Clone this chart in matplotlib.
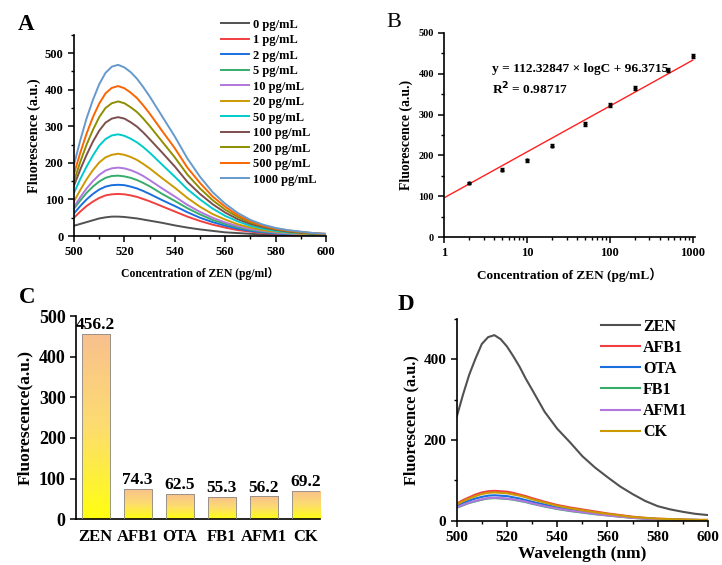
import numpy as np
import matplotlib
matplotlib.use("Agg")
import matplotlib.pyplot as plt
from matplotlib.ticker import MultipleLocator, LogLocator, NullFormatter
from matplotlib.colors import LinearSegmentedColormap

plt.rcParams['font.family'] = ['Liberation Serif', 'Noto Sans CJK SC']
plt.rcParams['font.weight'] = 'bold'
plt.rcParams['axes.labelweight'] = 'bold'

# ---- data ----
wl = [500, 502.5, 505, 507.5, 510, 512.5, 515, 517.5, 520, 522.5, 525, 527.5, 530,
      535, 540, 545, 550, 555, 560, 565, 570, 575, 580, 585, 590, 595, 600]

conc_labels = ["0 pg/mL", "1 pg/mL", "2 pg/mL", "5 pg/mL", "10 pg/mL", "20 pg/mL",
               "50 pg/mL", "100 pg/mL", "200 pg/mL", "500 pg/mL", "1000 pg/mL"]
spec_0 = [28, 33, 38, 43, 48, 51, 53, 53, 52, 50, 48, 45, 42,
          36, 29, 23, 18, 14, 10, 8, 6, 4, 3, 2, 2, 1, 1]
spec_1 = [50, 67, 82, 94, 104, 111, 114, 115, 114, 111, 107, 101, 95,
          81, 67, 53, 41, 31, 23, 16, 12, 8, 6, 4, 3, 2, 2]
spec_2 = [62, 82, 100, 115, 127, 135, 139, 140, 139, 135, 130, 123, 115,
          98, 82, 65, 50, 38, 28, 20, 14, 10, 7, 5, 4, 3, 2]
spec_5 = [75, 97, 118, 135, 149, 159, 164, 165, 163, 159, 153, 145, 136,
          115, 96, 76, 59, 44, 33, 24, 17, 12, 9, 7, 5, 4, 3]
spec_10 = [80, 106, 130, 150, 167, 179, 185, 187, 185, 180, 173, 164, 153,
           130, 108, 85, 66, 50, 37, 27, 19, 14, 10, 7, 5, 4, 3]
spec_20 = [95, 126, 155, 180, 201, 215, 222, 225, 222, 216, 208, 197, 185,
           158, 132, 104, 80, 60, 45, 32, 23, 16, 12, 9, 6, 5, 4]
spec_50 = [118, 156, 190, 220, 247, 265, 275, 278, 274, 266, 256, 243, 228,
           195, 162, 128, 100, 75, 55, 40, 28, 20, 14, 10, 8, 6, 4]
spec_100 = [138, 182, 222, 258, 288, 310, 321, 325, 321, 311, 299, 283, 265,
            228, 190, 148, 115, 87, 64, 46, 33, 24, 17, 12, 9, 6, 5]
spec_200 = [150, 203, 250, 290, 325, 350, 363, 368, 363, 352, 339, 321, 301,
            258, 215, 168, 130, 98, 72, 52, 37, 27, 19, 14, 10, 7, 5]
spec_500 = [170, 228, 280, 325, 362, 390, 405, 410, 404, 392, 377, 357, 335,
            287, 240, 187, 145, 108, 80, 57, 40, 28, 20, 15, 11, 8, 6]
spec_1000 = [195, 262, 322, 372, 415, 446, 463, 468, 461, 448, 430, 407, 382,
             327, 272, 212, 162, 120, 88, 63, 44, 31, 22, 16, 12, 8, 6]
spectra_a = [spec_0, spec_1, spec_2, spec_5, spec_10, spec_20,
             spec_50, spec_100, spec_200, spec_500, spec_1000]

cal_conc = [2, 5, 10, 20, 50, 100, 200, 500, 1000]
cal_fl = [133, 165, 188, 224, 278, 323, 365, 409, 443]
cal_err = [3, 4, 4, 3, 5, 5, 4, 4, 5]
slope, intercept = 112.32847, 96.3715
fit_conc = [1, 1000]

toxins = ["ZEN", "AFB1", "OTA", "FB1", "AFM1", "CK"]
tox_fl = [456.2, 74.3, 62.5, 55.3, 56.2, 69.2]

spec_zen = [257, 312, 362, 402, 438, 455, 460, 450, 432, 408, 382, 352, 325,
            270, 228, 195, 160, 132, 108, 85, 66, 49, 36, 28, 22, 17, 14]
spec_afb1 = [42, 51, 58, 65, 70, 73, 74, 73, 72, 69, 65, 61, 56,
             47, 39, 33, 28, 23, 18, 14, 10, 7, 5, 4, 3, 2, 2]
spec_ota = [37, 44, 50, 55, 59, 62, 63, 62, 61, 58, 55, 51, 47,
            40, 33, 28, 23, 19, 15, 11, 8, 6, 4, 3, 2, 2, 1]
spec_fb1 = [32, 38, 44, 48, 52, 55, 56, 55, 54, 52, 49, 46, 42,
            35, 29, 24, 20, 16, 13, 10, 7, 5, 4, 3, 2, 2, 1]
spec_afm1 = [33, 39, 45, 49, 53, 56, 57, 56, 55, 53, 50, 47, 43,
             36, 30, 25, 21, 17, 13, 10, 7, 5, 4, 3, 2, 2, 1]
spec_ck = [40, 48, 55, 61, 66, 69, 70, 69, 68, 65, 62, 58, 53,
           45, 37, 31, 26, 21, 17, 13, 9, 7, 5, 4, 3, 2, 2]
spectra_d = [spec_zen, spec_afb1, spec_ota, spec_fb1, spec_afm1, spec_ck]

origin_colors = ["#515151", "#F14040", "#1A6FDF", "#37AD6B", "#B177DE", "#CC9900",
                 "#00CBCC", "#7D4E4E", "#8E8E00", "#FB6501", "#6699CC"]
d_colors = ["#515151", "#F14040", "#1A6FDF", "#37AD6B", "#B177DE", "#CC9900"]

fig = plt.figure(figsize=(7.22, 5.65), dpi=100)


def style(ax, size):
    for s in ["top", "right"]:
        ax.spines[s].set_visible(False)
    for s in ["left", "bottom"]:
        ax.spines[s].set_linewidth(1.2)
    ax.tick_params(which="major", direction="out", length=4, width=1.1, labelsize=size)
    ax.tick_params(which="minor", direction="out", length=2.5, width=1.0)
    for t in ax.get_xticklabels() + ax.get_yticklabels():
        t.set_fontweight("bold")


# ---- A ----
axA = fig.add_axes([0.1025, 0.5823, 0.349, 0.356])
for y, c, lab in zip(spectra_a, origin_colors, conc_labels):
    axA.plot(wl, y, color=c, lw=1.4, label=lab)
axA.set_xlim(500, 600)
axA.set_ylim(0, 550)
axA.xaxis.set_major_locator(MultipleLocator(20))
axA.xaxis.set_minor_locator(MultipleLocator(10))
axA.yaxis.set_major_locator(MultipleLocator(100))
axA.yaxis.set_minor_locator(MultipleLocator(50))
style(axA, 9)
axA.set_ylabel("Fluorescence (a.u.)", fontsize=10.3, labelpad=3)
axA.set_xlabel("Concentration of ZEN (pg/ml）", fontsize=8.4, labelpad=6)
axA.legend(loc="upper left", bbox_to_anchor=(0.297, 0.978), bbox_transform=fig.transFigure,
           frameon=False, fontsize=9, labelspacing=0.28, handlelength=2.3,
           handletextpad=0.3, borderpad=0)
fig.text(0.024, 0.947, "A", fontsize=16.5, fontweight="bold")

# ---- B ----
axB = fig.add_axes([0.6154, 0.5805, 0.3472, 0.3611])
axB.set_xscale("log")
fit_y = [slope * np.log10(c) + intercept for c in fit_conc]
axB.plot(fit_conc, fit_y, color="#FF2020", lw=1.0)
axB.errorbar(cal_conc, cal_fl, yerr=cal_err, fmt="o", ms=2, color="black",
             ecolor="black", elinewidth=0.6, capsize=1.2)
axB.set_xlim(1, 1066)
axB.set_ylim(0, 500)
axB.yaxis.set_major_locator(MultipleLocator(100))
axB.yaxis.set_minor_locator(MultipleLocator(50))
axB.xaxis.set_minor_locator(LogLocator(base=10, subs=np.arange(2, 10), numticks=10))
axB.xaxis.set_minor_formatter(NullFormatter())
axB.set_xticks([1, 10, 100, 1000])
axB.set_xticklabels(["1", "10", "100", "1000"])
style(axB, 9)
axB.tick_params(axis="y", labelsize=7.5)
axB.set_ylabel("Fluorescence (a.u.)", fontsize=9.8, labelpad=4)
axB.set_xlabel("Concentration of ZEN (pg/mL）", fontsize=9.5, labelpad=6)
axB.text(0.19, 0.81, "y = 112.32847 × logC + 96.3715", transform=axB.transAxes,
         fontsize=9.6, fontweight="bold")
axB.text(0.19, 0.70, r"R$^{\mathbf{2}}$ = 0.98717", transform=axB.transAxes,
         fontsize=9.6, fontweight="bold")
fig.text(0.535, 0.952, "B", fontsize=16, fontweight="normal")

# ---- C ----
axC = fig.add_axes([0.1053, 0.0809, 0.3377, 0.3598])
xpos = np.arange(len(toxins))
bars = axC.bar(xpos, tox_fl, width=0.67, facecolor="none", edgecolor="#8a8a8a",
               linewidth=0.6, zorder=3)
cmap = LinearSegmentedColormap.from_list("yp", ["#FFFF10", "#FDDC70", "#F8C08E"])
grad = np.linspace(0, 1, 256).reshape(-1, 1)
for b in bars:
    x0, w, h = b.get_x(), b.get_width(), b.get_height()
    im = axC.imshow(grad, cmap=cmap, origin="lower", aspect="auto",
                    extent=[x0, x0 + w, 0, h], zorder=2)
    im.set_clip_path(b)
    axC.text(x0 + w / 2, h + 2, f"{h:.1f}", ha="center", va="bottom",
             fontsize=12.5, fontweight="bold")
axC.set_xlim(-0.47, 5.34)
axC.set_ylim(0, 500)
axC.set_xticks(xpos)
axC.set_xticklabels(toxins)
axC.yaxis.set_major_locator(MultipleLocator(100))
style(axC, 13)
axC.tick_params(axis="x", length=0, pad=7, labelsize=12)
axC.set_ylabel("Fluorescence(a.u.)", fontsize=12.5, labelpad=4)
fig.text(0.026, 0.464, "C", fontsize=16.5, fontweight="bold")

# ---- D ----
axD = fig.add_axes([0.6325, 0.0784, 0.3481, 0.357])
for y, c, lab in zip(spectra_d, d_colors, toxins):
    axD.plot(wl, y, color=c, lw=1.5, label=lab)
axD.set_xlim(500, 600)
axD.set_ylim(0, 500)
axD.xaxis.set_major_locator(MultipleLocator(20))
axD.xaxis.set_minor_locator(MultipleLocator(10))
axD.yaxis.set_major_locator(MultipleLocator(200))
axD.yaxis.set_minor_locator(MultipleLocator(100))
style(axD, 11)
axD.set_ylabel("Fluorescence (a.u.)", fontsize=11.7, labelpad=3)
axD.set_xlabel("Wavelength (nm)", fontsize=12.5, labelpad=1)
axD.legend(loc="upper left", bbox_to_anchor=(0.822, 0.45), bbox_transform=fig.transFigure,
           frameon=False, fontsize=11.5, labelspacing=0.32, handlelength=2.4,
           handletextpad=0.2, borderpad=0)
fig.text(0.551, 0.451, "D", fontsize=16.5, fontweight="bold")

fig.savefig("out.png", dpi=100)
